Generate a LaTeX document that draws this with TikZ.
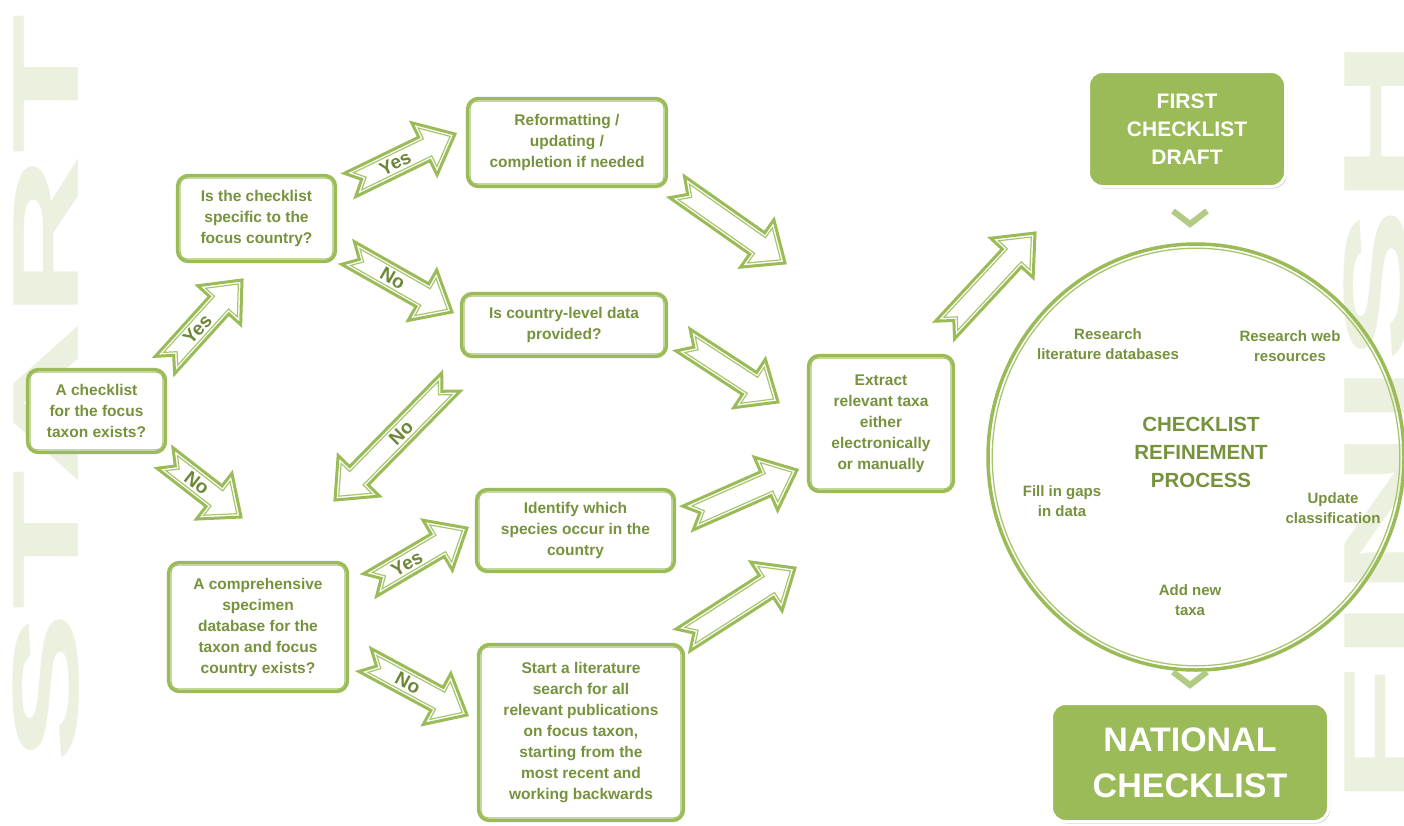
\documentclass[tikz,border=0pt]{standalone}
\usepackage{fontspec}
\setmainfont{Liberation Sans}
\usepackage{graphicx}
\usetikzlibrary{calc,shapes.geometric,shadows}
\definecolor{G}{RGB}{155,187,89}
\definecolor{GL}{RGB}{168,197,110}
\definecolor{TG}{RGB}{118,146,60}
\definecolor{WM}{RGB}{235,241,222}
\definecolor{CH}{RGB}{178,203,132}
\newcommand\boxfont{\fontsize{15.5}{21}\selectfont\bfseries}
\newcommand\circfont{\fontsize{15}{20}\selectfont\bfseries}
% notched block arrow polygon: #1 tail, #2 tip, #3 shaft half width, #4 head half width, #5 head length, #6 notch depth, #7 style
\newcommand\apoly[7]{%
  \coordinate (aB) at ($(#2)!#5!(#1)$);
  \draw[#7] ($(#1)!#3!90:(#2)$) -- ($(aB)!#3!90:(#2)$) -- ($(aB)!#4!90:(#2)$) -- (#2)
    -- ($(aB)!#4!-90:(#2)$) -- ($(aB)!#3!-90:(#2)$) -- ($(#1)!#3!-90:(#2)$)
    -- ($(#1)!#6!(#2)$) -- cycle;}
\newcommand\barrow[2]{%
  \apoly{#1}{#2}{13pt}{29pt}{34pt}{13pt}{arrowout}
  \coordinate (aT) at ($(#1)!8.45pt!(#2)$);
  \coordinate (aP) at ($(#2)!5.4pt!(#1)$);
  \apoly{aT}{aP}{9.5pt}{21.4pt}{25.1pt}{9.5pt}{arrowin}}
\begin{document}
\begin{tikzpicture}[x=1pt,y=-1pt,
  box/.style={draw=G, line width=3.4pt, rounded corners=11pt, fill=white, text=TG,
    font=\boxfont, align=center, inner sep=0pt},
  gbox/.style={fill=G, draw=white, line width=3pt, rounded corners=14pt, text=white,
    align=center, inner sep=0pt,
    drop shadow={shadow xshift=1.5pt, shadow yshift=-2pt, fill=black!40, opacity=0.45}},
  wm/.style={text=WM, font=\fontsize{94}{94}\selectfont\bfseries, inner sep=0pt},
  arrowout/.style={draw=G, line width=3pt, fill=white, line join=miter, miter limit=6},
  arrowin/.style={draw=GL, line width=1.2pt, line join=miter, miter limit=6},
  lbl/.style={font=\fontsize{19}{19}\selectfont\bfseries, text=TG!92!black, inner sep=0pt},
  ctext/.style={font=\circfont, text=TG, align=center, inner sep=0pt},
  chev/.style={draw=CH, line width=6pt, line join=miter}]
\useasboundingbox (0,0) rectangle (1404,825);
\fill[white] (0,0) rectangle (1404,825);
% watermarks
\node[wm, rotate=90] (wmS) at (46.5,389) {\scalebox{2.45}[1]{START}};
\node[wm, rotate=90] (wmF) at (1377,422) {\scalebox{2.5}[1]{FINISH}};
% circle
\node[draw=G, line width=3.5pt, ellipse, minimum width=416pt, minimum height=426pt, inner sep=0pt] (circ) at (1196,457) {};
\node[draw=GL, line width=1.3pt, ellipse, minimum width=407.6pt, minimum height=417.6pt, inner sep=0pt] (circi) at (circ.center) {};
\node[ctext] (c1) at (1108,344) {Research\\literature databases};
\node[ctext] (c2) at (1290,346) {Research web\\resources};
\node[ctext, font=\fontsize{20.5}{28}\selectfont\bfseries] (c3) at (1201,452) {CHECKLIST\\REFINEMENT\\PROCESS};
\node[ctext] (c4) at (1062,501) {Fill in gaps\\in data};
\node[ctext] (c5) at (1333,508) {Update\\classification};
\node[ctext] (c6) at (1190,600) {Add new\\taxa};
% arrow end points
\coordinate (t1) at (165,365);  \coordinate (p1) at (242,280);
\coordinate (t2) at (165,458);  \coordinate (p2) at (241,517);
\coordinate (t3) at (350,185);  \coordinate (p3) at (455,134);
\coordinate (t4) at (348,253);  \coordinate (p4) at (452,312);
\coordinate (t5) at (677,187);  \coordinate (p5) at (785,263);
\coordinate (t6) at (683,340);  \coordinate (p6) at (778,402);
\coordinate (t7) at (451,382);  \coordinate (p7) at (335,500);
\coordinate (t8) at (370,585);  \coordinate (p8) at (467,528);
\coordinate (t9) at (365,660);  \coordinate (p9) at (467,715);
\coordinate (t10) at (688,518); \coordinate (p10) at (797,470);
\coordinate (t11) at (683,640); \coordinate (p11) at (795,568);
\coordinate (t12) at (945,330); \coordinate (p12) at (1035,233);
\barrow{t1}{p1} \barrow{t2}{p2} \barrow{t3}{p3} \barrow{t4}{p4}
\barrow{t5}{p5} \barrow{t6}{p6} \barrow{t7}{p7} \barrow{t8}{p8}
\barrow{t9}{p9} \barrow{t10}{p10} \barrow{t11}{p11} \barrow{t12}{p12}
% arrow labels
\node[lbl, rotate=48] (l1) at ($(t1)!0.42!(p1)$) {Yes};
\node[lbl, rotate=-38] (l2) at ($(t2)!0.42!(p2)$) {No};
\node[lbl, rotate=26] (l3) at ($(t3)!0.43!(p3)$) {Yes};
\node[lbl, rotate=-30] (l4) at ($(t4)!0.43!(p4)$) {No};
\node[lbl, rotate=45] (l7) at ($(t7)!0.43!(p7)$) {No};
\node[lbl, rotate=30] (l8) at ($(t8)!0.38!(p8)$) {Yes};
\node[lbl, rotate=-28] (l9) at ($(t9)!0.42!(p9)$) {No};
% boxes
\node[box, minimum width=138pt, minimum height=83pt] (b1) at (96.5,411) {A checklist\\for the focus\\taxon exists?};
\node[box, minimum width=158pt, minimum height=86pt] (b2) at (256.5,218.5) {Is the checklist\\specific to the\\focus country?};
\node[box, minimum width=199pt, minimum height=88pt] (b3) at (567,142.5) {Reformatting /\\updating /\\completion if needed};
\node[box, minimum width=205pt, minimum height=63pt] (b4) at (564,325) {Is country-level data\\provided?};
\node[box, minimum width=198pt, minimum height=82pt] (b5) at (575.5,530.5) {Identify which\\species occur in the\\country};
\node[box, minimum width=179pt, minimum height=129pt] (b6) at (258,627) {A comprehensive\\specimen\\database for the\\taxon and focus\\country exists?};
\node[box, minimum width=205pt, minimum height=176pt] (b7) at (581,732.5) {Start a literature\\search for all\\relevant publications\\on focus taxon,\\starting from the\\most recent and\\working backwards};
\node[box, minimum width=145pt, minimum height=136pt] (b8) at (881,423.5) {Extract\\relevant taxa\\either\\electronically\\or manually};
\foreach \n in {b1,b2,b3,b4,b5,b6,b7,b8}
  \draw[GL, line width=1.4pt, rounded corners=7pt] ($(\n.south west)+(4.2,-4.2)$) rectangle ($(\n.north east)+(-4.2,4.2)$);
% green boxes
\node[gbox, minimum width=197pt, minimum height=115pt, font=\fontsize{21}{28}\selectfont\bfseries] (fd) at (1187,129) {FIRST\\CHECKLIST\\DRAFT};
\node[gbox, minimum width=277pt, minimum height=118pt, font=\fontsize{34}{46}\selectfont\bfseries] (nc) at (1190,762.5) {NATIONAL\\CHECKLIST};
% chevrons
\draw[chev] (1173,211) -- (1190,224) -- (1207,211);
\draw[chev] (1173,672) -- (1190,685) -- (1207,672);
\end{tikzpicture}
\end{document}
